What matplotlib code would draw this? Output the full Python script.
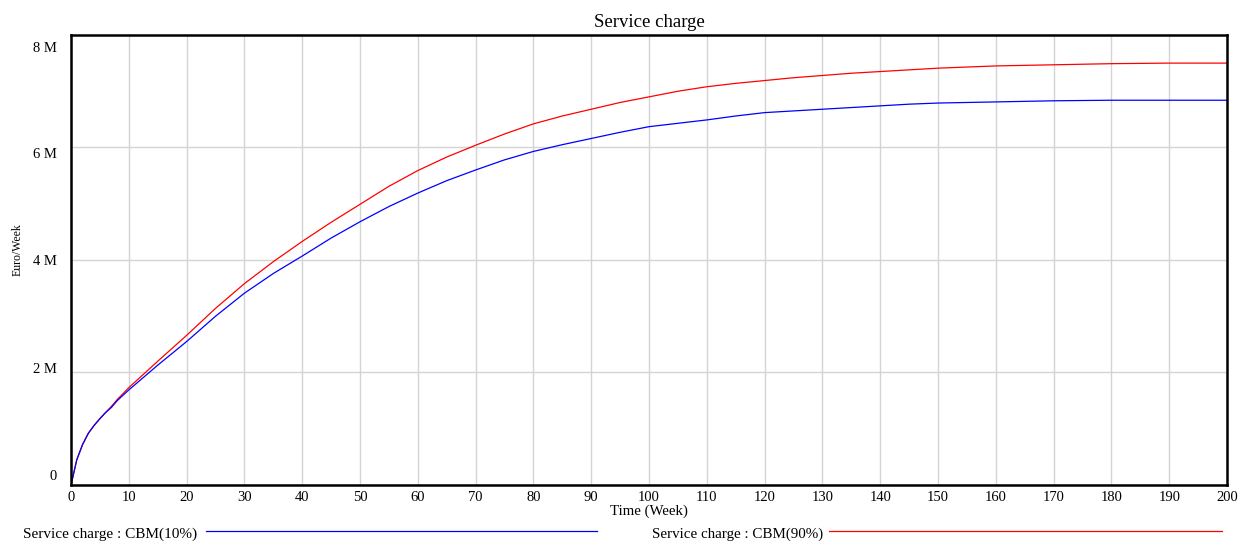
import matplotlib
matplotlib.use("Agg")
import matplotlib.pyplot as plt
import matplotlib.transforms as mtransforms
from matplotlib.lines import Line2D
import numpy as np

plt.rcParams['font.family'] = ['Liberation Serif', 'DejaVu Serif']

# Simulation output, Euro/Week (millions) against Time (Week)
weeks = [0, 1, 2, 3, 4, 5, 6, 7, 8, 10, 15, 20, 25, 30, 35, 40, 45, 50, 55,
         60, 65, 70, 75, 80, 85, 90, 95, 100, 105, 110, 115, 120, 125, 130,
         135, 140, 145, 150, 160, 170, 180, 190, 200]
cbm_10 = [0, 0.45, 0.72, 0.92, 1.06, 1.18, 1.29, 1.38, 1.50, 1.69, 2.13,
          2.55, 3.00, 3.41, 3.76, 4.07, 4.39, 4.68, 4.95, 5.19, 5.41, 5.60,
          5.78, 5.93, 6.05, 6.16, 6.27, 6.37, 6.43, 6.49, 6.56, 6.62, 6.65,
          6.68, 6.71, 6.74, 6.77, 6.79, 6.81, 6.83, 6.84, 6.84, 6.84]
cbm_90 = [0, 0.45, 0.72, 0.92, 1.06, 1.18, 1.29, 1.40, 1.52, 1.73, 2.20,
          2.66, 3.14, 3.58, 3.97, 4.33, 4.67, 4.99, 5.31, 5.59, 5.83, 6.04,
          6.24, 6.42, 6.56, 6.68, 6.80, 6.90, 7.00, 7.08, 7.14, 7.19, 7.24,
          7.28, 7.32, 7.35, 7.38, 7.41, 7.45, 7.47, 7.49, 7.50, 7.50]

x_ticks = list(range(0, 201, 10))
y_ticks = [0, 2, 4, 6, 8]
y_tick_labels = ['0', '2 M', '4 M', '6 M', '8 M']

fig = plt.figure(figsize=(12.46, 5.5), dpi=100)
ax = fig.add_axes([0.057, 0.1182, 0.9278, 0.8182])

# red first so the shared early stretch shows blue
ax.plot(weeks, cbm_90, color='#ff0000', lw=0.9)
ax.plot(weeks, cbm_10, color='#0000ff', lw=0.9)

ax.set_xlim(0, 200)
ax.set_ylim(0, 8)
ax.set_xticks(x_ticks)
ax.set_yticks(y_ticks)
ax.set_yticklabels(y_tick_labels)
ax.tick_params(length=0, labelsize=10.5, pad=4)
ax.tick_params(axis='y', pad=10)
ax.grid(True, color='#d4d4d4', lw=1.0)
ax.set_axisbelow(True)
for side in ax.spines.values():
    side.set_color('black')
    side.set_linewidth(1.8)

# y labels sit a little inward from the frame edges
shifts = [7, 3, 0, -4, -9]
for lab, dy in zip(ax.get_yticklabels(), shifts):
    lab.set_transform(lab.get_transform() +
                      mtransforms.ScaledTranslation(0, dy / 72, fig.dpi_scale_trans))

ax.set_title('Service charge', fontsize=13.5, pad=6)
ax.set_xlabel('Time (Week)', fontsize=10.7, labelpad=1)
ax.set_ylabel('Euro/Week', fontsize=8.5)
ax.yaxis.set_label_coords(-0.041, 0.524)

# legend row under the axis
fig.text(0.0185, 0.016, 'Service charge : CBM(10%)', fontsize=11, va='bottom')
fig.add_artist(Line2D([0.165, 0.479], [0.0345, 0.0345], color='#0000ff', lw=0.9))
fig.text(0.523, 0.016, 'Service charge : CBM(90%)', fontsize=10.8, va='bottom')
fig.add_artist(Line2D([0.665, 0.981], [0.0345, 0.0345], color='#ff0000', lw=0.9))

fig.savefig('out.png', dpi=100)
